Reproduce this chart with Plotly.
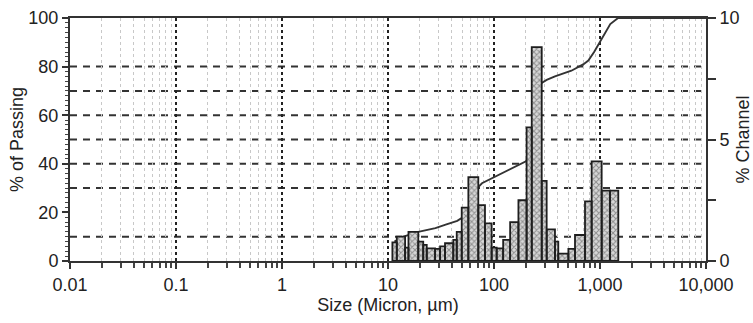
import plotly.graph_objects as go

# ---- data ----
# size channels (µm): lower edge, upper edge, % in channel (right axis)
chan_lo = [11.0, 12.1, 14.5, 15.6, 19.3, 21.5, 23.2, 27.8, 31.0, 34.5, 41.3, 44.5,
           49.6, 57.3, 71.1, 82.2, 95, 106, 122, 142, 170, 203, 227, 282, 314,
           376, 404, 503, 581, 722, 834, 1037, 1242]
chan_hi = [12.1, 14.5, 15.6, 19.3, 21.5, 23.2, 27.8, 31.0, 34.5, 41.3, 44.5, 49.6,
           57.3, 71.1, 82.2, 95, 106, 122, 142, 170, 203, 227, 282, 314, 376,
           404, 503, 581, 722, 834, 1037, 1242, 1488]
chan_pct = [0.77, 1.0, 0.55, 1.2, 0.8, 0.66, 0.52, 0.5, 0.6, 0.73, 0.87, 1.2,
            2.2, 3.45, 2.3, 1.55, 0.55, 0.52, 0.87, 1.6, 2.5, 5.5, 8.8, 3.3, 1.3,
            0.8, 0.3, 0.5, 1.07, 2.45, 4.1, 2.9, 2.9]

# cumulative % passing (left axis)
cum_size = [11.5, 14, 19.3, 28, 35, 45, 53, 59, 62, 66, 77, 100, 147, 180, 200,
            215, 227, 241, 255, 275, 314, 376, 537, 700, 776, 880, 964, 1100,
            1250, 1480, 10000]
cum_pass = [8, 10, 12, 13.5, 15, 16.5, 18.5, 21, 25, 29, 32, 34.5, 38, 39.8, 41,
            44, 50, 62, 70, 73, 74.5, 76, 78.3, 81, 82.5, 86, 89, 93, 97.5, 100, 100]

x_tickvals = [0.01, 0.1, 1, 10, 100, 1000, 10000]
x_ticktext = ["0.01", "0.1", "1", "10", "100", "1,000", "10,000"]
y_tickvals = [0, 20, 40, 60, 80, 100]
y2_tickvals = [0, 2.5, 5, 7.5, 10]
y2_ticktext = ["0", "", "5", "", "10"]
hgrid_vals = [10, 30, 40, 50, 60, 70, 80]

minor_x = [m * 10 ** e for e in range(-2, 4) for m in range(2, 10)]

# ---- build bar polygons from channel data ----
bx, by = [], []
for lo, hi, p in zip(chan_lo, chan_hi, chan_pct):
    bx += [lo, lo, hi, hi, lo, None]
    by += [0, p, p, 0, 0, None]

FONT = "Liberation Sans, Arial, sans-serif"
fig = go.Figure()

fig.add_trace(go.Scatter(
    x=bx, y=by, yaxis="y2", mode="lines", fill="toself",
    fillcolor="rgba(0,0,0,0)",
    fillpattern=dict(shape="x", fgcolor="#444444", bgcolor="#d8d8d8", size=4, solidity=0.45),
    line=dict(color="#1e1e1e", width=1.8), hoverinfo="skip", showlegend=False,
))

fig.add_trace(go.Scatter(
    x=cum_size, y=cum_pass, mode="lines",
    line=dict(color="#333333", width=1.9), showlegend=False,
))

shapes = [dict(type="line", xref="paper", yref="y", x0=0, x1=1, y0=v, y1=v,
               line=dict(color="#333", width=2, dash="7px,6px"), layer="below")
          for v in hgrid_vals]

fig.update_layout(
    width=753, height=323,
    margin=dict(l=70, r=47, t=18, b=62),
    paper_bgcolor="white", plot_bgcolor="white",
    font=dict(family=FONT, size=18, color="#222"),
    shapes=shapes,
    xaxis=dict(
        type="log", range=[-2, 4], automargin=False,
        tickmode="array", tickvals=x_tickvals, ticktext=x_ticktext,
        ticks="outside", ticklen=6, tickwidth=2, tickcolor="#333",
        showline=True, linecolor="#333", linewidth=2, mirror=True,
        showgrid=True, gridcolor="#222", gridwidth=2, griddash="dot",
        minor=dict(tickmode="array", tickvals=minor_x, ticks="outside", ticklen=5,
                   tickwidth=2, tickcolor="#444", showgrid=True, gridcolor="#c8c8c8",
                   gridwidth=1, griddash="dot"),
        title=dict(text="Size (Micron, µm)", font=dict(size=18), standoff=0),
        tickfont=dict(size=18),
        zeroline=False,
    ),
    yaxis=dict(
        range=[0, 100], tickmode="array", tickvals=y_tickvals, automargin=False,
        ticks="outside", ticklen=6, tickwidth=2, tickcolor="#333",
        showline=True, linecolor="#333", linewidth=2,
        showgrid=False, zeroline=False,
        minor=dict(dtick=2, ticks="outside", ticklen=3, tickwidth=1, tickcolor="#444"),
        title=dict(text="% of Passing", font=dict(size=18), standoff=0),
        tickfont=dict(size=18),
    ),
    yaxis2=dict(
        range=[0, 10], overlaying="y", side="right", automargin=False,
        tickmode="array", tickvals=y2_tickvals, ticktext=y2_ticktext,
        ticks="outside", ticklen=8, tickwidth=2, tickcolor="#333",
        showline=True, linecolor="#333", linewidth=2,
        showgrid=False, zeroline=False,
        title=dict(text="% Channel", font=dict(size=18), standoff=6),
        tickfont=dict(size=18),
    ),
)

fig.write_html("out.html", config={"displayModeBar": False},
               post_script="document.body.style.margin='0';")
